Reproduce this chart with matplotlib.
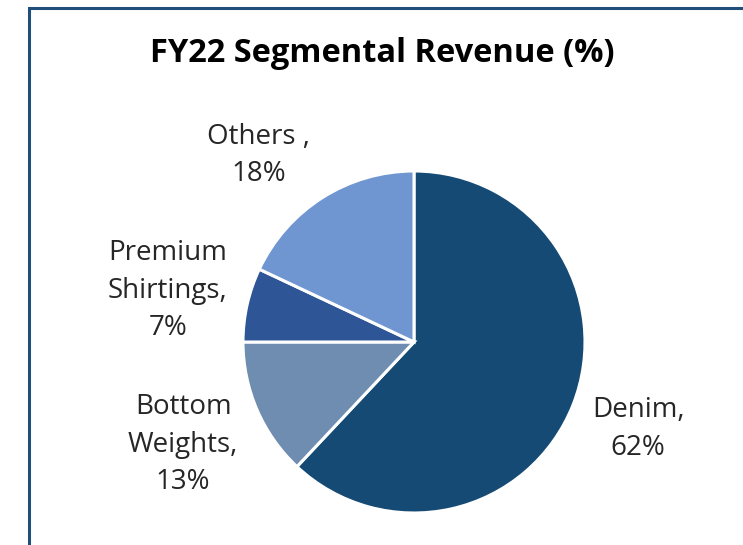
import matplotlib.pyplot as plt
from matplotlib.patches import Rectangle

# data
segments = ["Denim", "Bottom\nWeights", "Premium\nShirtings", "Others "]
shares = [62, 13, 7, 18]
colors = ["#154A74", "#6F8DB0", "#2E5596", "#7096D2"]

# label positions (data units, pie radius = 1)
label_pos = [(1.31, -0.51), (-1.35, -0.60), (-1.44, 0.30), (-0.91, 1.09)]

plt.rcParams["font.family"] = ["Open Sans", "DejaVu Sans"]

fig = plt.figure(figsize=(7.43, 5.45), dpi=100)
W, H = 743, 545
cx, cy, r = 414, 342, 171
ax = fig.add_axes([(cx - r) / W, (H - cy - r) / H, 2 * r / W, 2 * r / H])

ax.pie(shares, colors=colors, startangle=90, counterclock=False,
       wedgeprops=dict(edgecolor="white", linewidth=2.2))
ax.set_xlim(-1, 1)
ax.set_ylim(-1, 1)
ax.axis("off")

for name, val, (x, y) in zip(segments, shares, label_pos):
    ax.text(x, y, f"{name},\n{val}%", ha="center", va="center",
            fontsize=20, color="#262626", linespacing=1.45)

fig.text(382 / W, 1 - 54 / H, "FY22 Segmental Revenue (%)", ha="center",
         va="center", fontsize=23.5, fontweight="bold", color="black")

# outer frame
fig.patches.append(Rectangle((29 / W, -0.1), 1.0, 1 - 8 / H + 0.1,
                             transform=fig.transFigure, fill=False,
                             edgecolor="#1F4E79", linewidth=2.2))

fig.savefig("out.png", dpi=100)
